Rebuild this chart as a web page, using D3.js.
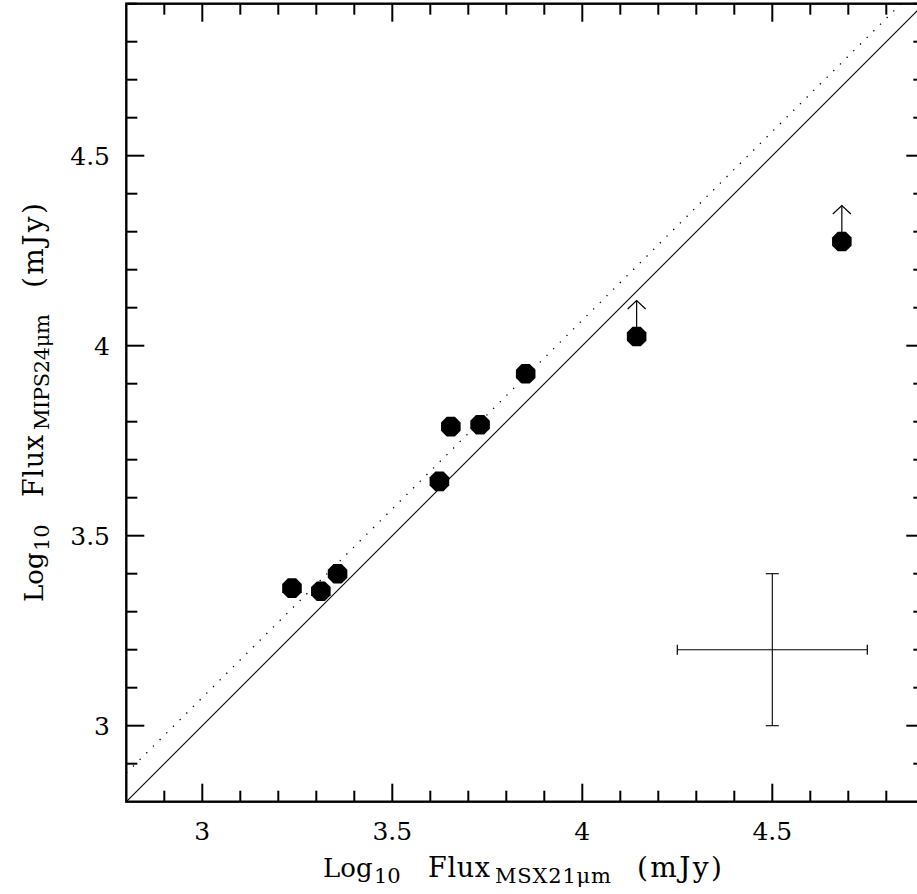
<!DOCTYPE html>
<html>
<head>
<meta charset="utf-8">
<script src="https://cdn.jsdelivr.net/npm/d3@7"></script>
<style>
  html, body { margin: 0; padding: 0; background: #fff; }
  svg { display: block; }
  text { font-family: "DejaVu Serif", "Liberation Serif", serif; fill: #000; }
</style>
</head>
<body>
<svg id="chart" width="917" height="894"></svg>
<script>
// MSX 21 micron vs MIPS 24 micron fluxes (log10 mJy)
const msx21 = [3.236, 3.312, 3.356, 3.624, 3.654, 3.731, 3.851, 4.143, 4.683];
const mips24 = [3.362, 3.354, 3.400, 3.643, 3.787, 3.792, 3.926, 4.024, 4.274];
// sources whose 24 micron flux is a lower limit
const lowerLimit = [false, false, false, false, false, false, false, true, true];

// axis domain and tick values
const axisDomain = [2.8, 4.9];
const majorTicks = [3, 3.5, 4, 4.5];
const minorTicks = d3.range(28, 50).map(v => v / 10);
const tickLabels = ["3", "3.5", "4", "4.5"];

// fitted relation (dotted): y = slope * x + intercept
const fitSlope = 0.993;
const fitIntercept = 0.095;

// typical error bar
const errCenter = [4.5, 3.2];
const errX = 0.25;
const errY = 0.2;

// lower-limit arrow length (dex)
const arrowLength = 0.095;

const svg = d3.select("#chart");
const pLeft = 126.3, pRight = 924.3, pTop = 3.7, pBottom = 801.7;

const x = d3.scaleLinear().domain(axisDomain).range([pLeft, pRight]);
const y = d3.scaleLinear().domain(axisDomain).range([pBottom, pTop]);

const g = svg.append("g");

g.append("defs").append("clipPath").attr("id", "plotclip")
  .append("rect").attr("x", pLeft).attr("y", pTop)
  .attr("width", pRight - pLeft).attr("height", pBottom - pTop);

const plot = g.append("g").attr("clip-path", "url(#plotclip)");

// one-to-one line
plot.append("line")
  .attr("x1", x(axisDomain[0])).attr("y1", y(axisDomain[0]))
  .attr("x2", x(axisDomain[1])).attr("y2", y(axisDomain[1]))
  .attr("stroke", "#000").attr("stroke-width", 1.1);

// fitted relation
const fitX0 = axisDomain[0];
const fitX1 = (axisDomain[1] - fitIntercept) / fitSlope;
plot.append("line")
  .attr("x1", x(fitX0)).attr("y1", y(fitSlope * fitX0 + fitIntercept))
  .attr("x2", x(fitX1)).attr("y2", y(fitSlope * fitX1 + fitIntercept))
  .attr("stroke", "#000").attr("stroke-width", 1.3)
  .attr("stroke-dasharray", "1.3,8.1");

// data points as filled octagons
const octR = 10.6;
const octagon = (cx, cy) => {
  const pts = d3.range(8).map(i => {
    const a = Math.PI / 8 + i * Math.PI / 4;
    return [cx + octR * Math.cos(a), cy + octR * Math.sin(a)];
  });
  return "M" + pts.map(p => p.join(",")).join("L") + "Z";
};

const points = msx21.map((v, i) => ({ x: v, y: mips24[i], lim: lowerLimit[i] }));

// lower-limit arrows
points.filter(d => d.lim).forEach(d => {
  const cx = x(d.x), cy = y(d.y), ty = y(d.y + arrowLength);
  plot.append("line").attr("x1", cx).attr("y1", cy).attr("x2", cx).attr("y2", ty)
    .attr("stroke", "#000").attr("stroke-width", 1.2);
  plot.append("path")
    .attr("d", `M${cx - 9},${ty + 8.5}L${cx},${ty}L${cx + 9},${ty + 8.5}`)
    .attr("fill", "none").attr("stroke", "#000").attr("stroke-width", 1.2);
});

plot.selectAll("path.pt").data(points).enter().append("path")
  .attr("class", "pt")
  .attr("d", d => octagon(x(d.x), y(d.y)))
  .attr("fill", "#000");

// representative error bars
const ex = x(errCenter[0]), ey = y(errCenter[1]);
plot.append("line")
  .attr("x1", x(errCenter[0] - errX)).attr("y1", ey)
  .attr("x2", x(errCenter[0] + errX)).attr("y2", ey)
  .attr("stroke", "#000").attr("stroke-width", 1.1);
plot.append("line")
  .attr("x1", ex).attr("y1", y(errCenter[1] - errY))
  .attr("x2", ex).attr("y2", y(errCenter[1] + errY))
  .attr("stroke", "#000").attr("stroke-width", 1.1);
[errCenter[0] - errX, errCenter[0] + errX].forEach(v => {
  plot.append("line").attr("x1", x(v)).attr("x2", x(v))
    .attr("y1", ey - 5).attr("y2", ey + 5)
    .attr("stroke", "#000").attr("stroke-width", 1.2);
});
[errCenter[1] - errY, errCenter[1] + errY].forEach(v => {
  plot.append("line").attr("y1", y(v)).attr("y2", y(v))
    .attr("x1", ex - 6.5).attr("x2", ex + 6.5)
    .attr("stroke", "#000").attr("stroke-width", 1.1);
});

// inward ticks on all four sides
const isMajor = v => majorTicks.some(m => Math.abs(m - v) < 1e-6);
const tickLen = v => isMajor(v) ? 18 : 11;
const tk = g.append("g").attr("stroke", "#000").attr("stroke-width", 2);
minorTicks.filter(v => v > axisDomain[0] + 1e-6).forEach(v => {
  const L = tickLen(v);
  tk.append("line").attr("x1", x(v)).attr("x2", x(v)).attr("y1", pBottom).attr("y2", pBottom - L);
  tk.append("line").attr("x1", x(v)).attr("x2", x(v)).attr("y1", pTop).attr("y2", pTop + L);
  tk.append("line").attr("y1", y(v)).attr("y2", y(v)).attr("x1", pLeft).attr("x2", pLeft + L);
  tk.append("line").attr("y1", y(v)).attr("y2", y(v)).attr("x1", pRight).attr("x2", pRight - L);
});

// frame
g.append("rect").attr("x", pLeft).attr("y", pTop)
  .attr("width", pRight - pLeft).attr("height", pBottom - pTop)
  .attr("fill", "none").attr("stroke", "#000").attr("stroke-width", 2.4);

// tick labels
majorTicks.forEach((v, i) => {
  g.append("text").attr("x", x(v)).attr("y", 840)
    .attr("text-anchor", "middle").attr("font-size", 25).text(tickLabels[i]);
  g.append("text").attr("x", 110).attr("y", y(v) + 9)
    .attr("text-anchor", "end").attr("font-size", 25).text(tickLabels[i]);
});

// axis titles: each piece placed along the baseline with its own size and drop
function title(parent, sub) {
  const parts = [
    { t: "Log",   at: 0,   size: 26, drop: 0 },
    { t: "10",    at: 51,  size: 21, drop: 6 },
    { t: "Flux",  at: 105, size: 27, drop: 0, w: 62 },
    { t: sub,     at: 172, size: 21, drop: 6, w: 116 },
    { t: "(mJy)", at: 314, size: 28, drop: 0, w: 85 }
  ];
  parts.forEach(p => {
    const t = parent.append("text")
      .attr("x", p.at).attr("y", p.drop)
      .attr("font-size", p.size)
      .text(p.t);
    if (p.w) t.attr("textLength", p.w).attr("lengthAdjust", "spacing");
  });
}
const xt = g.append("g").attr("transform", "translate(323,877)");
title(xt, "MSX21\u03BCm");

const yt = g.append("g").attr("transform", "translate(43,602) rotate(-90)");
title(yt, "MIPS24\u03BCm");
</script>
</body>
</html>
